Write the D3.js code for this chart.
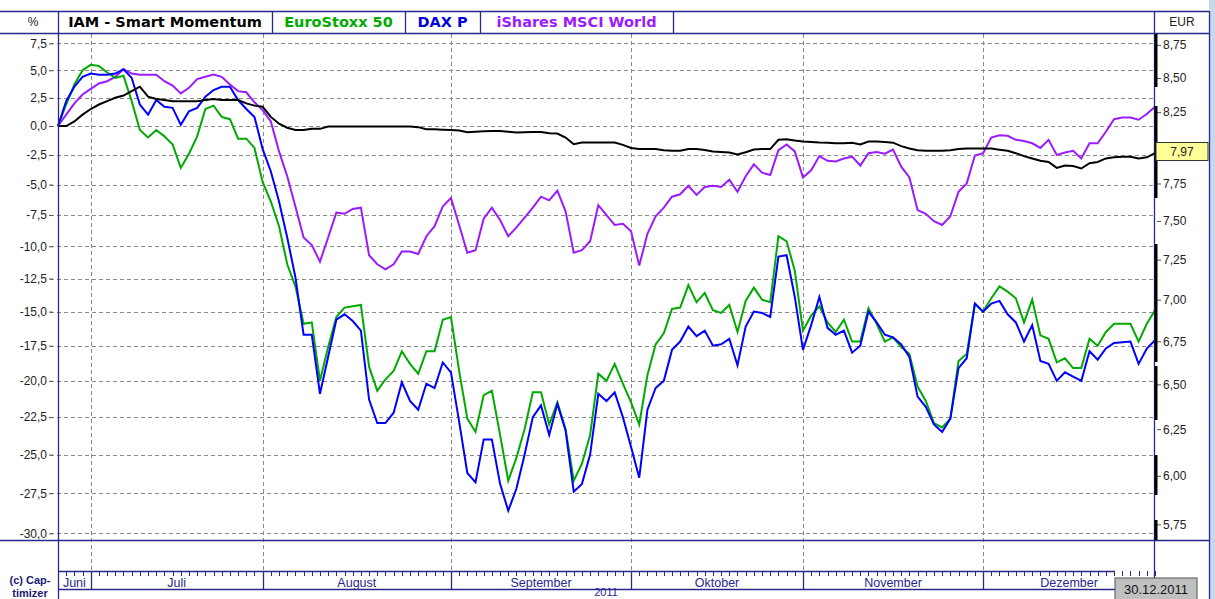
<!DOCTYPE html>
<html>
<head>
<meta charset="utf-8">
<style>
  body { margin: 0; background: #fff; }
  svg text { font-family: Arial, "Liberation Sans", sans-serif; }
</style>
</head>
<body>
<svg id="chart" width="1215" height="599"></svg>
<script src="https://d3js.org/d3.v7.min.js"></script>
<script>
// trading days from 24.06.2011 (base) to 30.12.2011, one value per day, % change
var months = ["Juni", "Juli", "August", "September", "Oktober", "November", "Dezember"];
var monthStart = [0, 4, 25, 48, 70, 91, 113];
var lastIndex = 134;

var iam = [0, 0, 0.4, 1.0, 1.5, 1.9, 2.2, 2.5, 2.7, 3.1,
  3.5, 2.6, 2.4, 2.3, 2.2, 2.2, 2.2, 2.2, 2.3, 2.4,
  2.3, 2.3, 2.3, 2.0, 1.8, 1.7, 0.8, 0.2, -0.15, -0.35,
  -0.35, -0.25, -0.25, -0.05, -0.05, -0.05, -0.05, -0.05, -0.05, -0.05,
  -0.05, -0.05, -0.05, -0.05, -0.1, -0.29, -0.29, -0.32, -0.35, -0.4,
  -0.55, -0.5, -0.45, -0.43, -0.43, -0.5, -0.57, -0.55, -0.52, -0.52,
  -0.63, -0.66, -1.0, -1.58, -1.44, -1.44, -1.44, -1.44, -1.44, -1.64,
  -1.9, -2.0, -2.0, -2.0, -2.1, -2.15, -2.15, -2.0, -2.0, -2.07,
  -2.2, -2.25, -2.3, -2.47, -2.27, -2.04, -2.0, -2.0, -1.2, -1.15,
  -1.26, -1.35, -1.4, -1.44, -1.45, -1.5, -1.5, -1.45, -1.6, -1.35,
  -1.35, -1.4, -1.45, -1.75, -1.95, -2.1, -2.15, -2.15, -2.15, -2.1,
  -2.0, -1.95, -1.95, -1.95, -1.95, -2.05, -2.15, -2.35, -2.6, -2.8,
  -3.0, -3.1, -3.6, -3.4, -3.45, -3.65, -3.2, -3.1, -2.8, -2.7,
  -2.65, -2.65, -2.8, -2.7, -2.35];

var eurostoxx = [0, 1.9, 3.7, 5.0, 5.5, 5.4, 4.8, 4.3, 4.5, 2.2,
  -0.35, -1.0, -0.35, -0.9, -1.6, -3.6, -2.4, -0.9, 1.5, 1.8,
  0.8, 0.6, -1.1, -1.1, -1.9, -4.8, -6.4, -8.4, -11.4, -13.1,
  -15.9, -15.8, -20.0, -17.6, -15.4, -14.7, -14.6, -14.5, -19.0, -20.7,
  -19.9, -19.3, -17.9, -18.8, -19.5, -17.9, -17.9, -15.6, -15.4, -19.3,
  -22.6, -23.5, -21.0, -20.7, -23.7, -26.7, -25.2, -23.3, -20.8, -20.8,
  -23.0, -21.5, -23.3, -26.7, -25.6, -23.7, -19.5, -20.0, -18.8, -20.2,
  -21.5, -23.0, -19.6, -17.4, -16.6, -14.8, -14.7, -13.0, -14.3, -13.6,
  -14.9, -15.1, -14.5, -16.5, -14.2, -13.2, -14.1, -14.3, -9.2, -9.6,
  -11.9, -16.4, -15.3, -14.6, -15.8, -16.5, -15.6, -17.2, -17.2, -14.75,
  -15.9, -17.2, -16.9, -17.6, -18.1, -20.4, -21.4, -22.9, -23.2, -22.6,
  -18.6, -18.1, -14.4, -15.0, -14.0, -13.1, -13.5, -14.0, -15.8, -14.1,
  -16.75, -17.0, -18.7, -18.4, -19.1, -19.1, -17.0, -17.5, -16.5, -15.9,
  -15.9, -15.9, -17.2, -15.9, -14.9];

var dax = [0, 2.2, 3.5, 4.4, 4.7, 4.6, 4.6, 4.7, 5.1, 4.3,
  1.9, 1.0, 2.3, 1.7, 1.6, 0.1, 1.3, 1.6, 2.6, 3.2,
  3.5, 3.5, 2.3, 1.5, 0.8, -2.0, -3.9, -6.4, -9.3, -12.4,
  -16.7, -16.7, -20.9, -18.3, -15.6, -15.2, -15.7, -16.4, -21.3, -22.9,
  -22.9, -22.2, -20.1, -21.4, -22.0, -20.2, -20.5, -18.7, -19.4, -22.8,
  -26.2, -26.8, -24.0, -24.0, -26.9, -28.6, -27.2, -25.0, -22.5, -21.7,
  -23.7, -21.6, -23.4, -27.4, -26.9, -25.0, -20.9, -21.4, -20.8, -22.5,
  -24.5, -26.5, -22.0, -20.5, -20.0, -17.8, -17.2, -16.1, -16.8, -16.4,
  -17.5, -17.4, -17.0, -18.9, -16.1, -15.0, -15.1, -15.4, -10.8, -10.7,
  -13.9, -17.8, -16.0, -13.9, -16.2, -16.7, -16.4, -18.0, -17.5, -15.0,
  -15.8, -16.7, -16.9, -17.4, -18.3, -21.1, -21.8, -23.0, -23.5, -22.6,
  -19.1, -18.4, -14.4, -15.0, -14.4, -14.2, -15.2, -15.8, -17.2, -16.0,
  -18.6, -18.8, -20.0, -19.4, -19.7, -20.0, -17.9, -18.5, -17.7, -17.3,
  -17.25, -17.2, -18.8, -17.7, -17.1];

var ishares = [0, 1.0, 2.0, 2.8, 3.3, 3.8, 4.0, 4.4, 5.1, 4.7,
  4.6, 4.6, 4.6, 4.0, 3.6, 2.9, 3.4, 4.2, 4.4, 4.6,
  4.4, 3.7, 3.1, 3.0, 2.1, 1.4, 0.4, -2.2, -4.3, -6.8,
  -9.3, -9.9, -11.2, -9.3, -7.3, -7.4, -7.0, -6.9, -10.7, -11.4,
  -11.8, -11.4, -10.4, -10.4, -10.6, -9.2, -8.4, -6.8, -6.1, -8.3,
  -10.5, -10.3, -7.8, -6.9, -7.9, -9.2, -8.5, -7.7, -6.9, -6.0,
  -6.3, -5.5, -7.2, -10.5, -10.3, -9.6, -6.7, -7.5, -8.3, -8.2,
  -8.8, -11.5, -9.0, -7.6, -6.9, -6.0, -5.8, -5.1, -5.85, -5.2,
  -5.1, -5.2, -4.6, -5.6, -4.3, -3.3, -4.0, -4.2, -2.1, -1.6,
  -2.2, -4.4, -3.8, -2.6, -3.0, -3.05, -2.8, -2.65, -3.4, -2.35,
  -2.25, -2.4, -2.05, -3.5, -4.4, -7.1, -7.4, -8.0, -8.3, -7.6,
  -5.6, -4.9, -2.55, -2.35, -1.0, -0.8, -0.85, -1.2, -1.3, -1.5,
  -1.9, -1.2, -2.5, -2.3, -2.15, -2.8, -1.5, -1.5, -0.5, 0.6,
  0.75, 0.75, 0.55, 1.05, 1.7];

var pctTicks = [7.5, 5, 2.5, 0, -2.5, -5, -7.5, -10, -12.5, -15, -17.5, -20, -22.5, -25, -27.5, -30];
var eurTicks = [8.75, 8.5, 8.25, 7.75, 7.5, 7.25, 7.0, 6.75, 6.5, 6.25, 6.0, 5.75];
var basePrice = 8.15;   // IAM price at 0 %
var lastPrice = 7.97;
var lastDate = "30.12.2011";
var year = "2011";

var seriesNames = ["IAM - Smart Momentum", "EuroStoxx 50", "DAX P", "iShares MSCI World"];
var seriesColors = ["#000000", "#00aa00", "#0000ff", "#9b1bff"];
var legendTextColors = ["#000000", "#00aa00", "#0000dd", "#9b1bff"];

var svg = d3.select("#chart");
var frame = "#28288c";
var plotL = 58, plotR = 1155, plotT = 34, plotB = 540;

var de = d3.formatLocale({decimal: ",", thousands: ".", grouping: [3], currency: ["", " €"], minus: "-"});
var f1 = de.format(".1f"), f2 = de.format(".2f");

var x = d3.scaleLinear().domain([0, lastIndex]).range([plotL, plotR]);
// log scale: returns are plotted as ratio 1 + p/100
var y = d3.scaleLog().domain([0.69594, 1.0839]).range([plotB, plotT]);
var yEur = d3.scaleLog().domain([0.69594 * basePrice, 1.0839 * basePrice]).range([plotB, plotT]);
function py(p) { return y(1 + p / 100); }

// light window border on the right
svg.append("rect").attr("x", 1209).attr("y", 0).attr("width", 6).attr("height", 599).attr("fill", "#c9d7ea");

// horizontal gridlines
svg.append("g").selectAll("line").data(pctTicks).enter().append("line")
  .attr("x1", 50).attr("x2", plotR)
  .attr("y1", function(d) { return Math.round(py(d)) + 0.5; })
  .attr("y2", function(d) { return Math.round(py(d)) + 0.5; })
  .attr("stroke", "#8a8a8a").attr("stroke-dasharray", "4,3");

// vertical gridlines at month starts
svg.append("g").selectAll("line").data(monthStart.slice(1)).enter().append("line")
  .attr("x1", function(d) { return Math.round(x(d)) + 0.5; })
  .attr("x2", function(d) { return Math.round(x(d)) + 0.5; })
  .attr("y1", plotT).attr("y2", 571)
  .attr("stroke", "#8a8a8a").attr("stroke-dasharray", "4,3");

// left axis labels
var ax = svg.append("g").attr("transform", "translate(" + 53 + ",0)")
  .call(d3.axisLeft(y).tickValues(pctTicks.map(function(p) { return 1 + p / 100; }))
    .tickFormat(function(d) { return f1((d - 1) * 100); }).tickSize(4).tickPadding(2));
ax.select(".domain").remove();
ax.selectAll("line").attr("stroke", "#555");
ax.selectAll("text").attr("fill", "#222").style("font-size", "12px");

// right axis
var ar = svg.append("g").attr("transform", "translate(" + (plotR + 2) + ",0)")
  .call(d3.axisRight(yEur).tickValues(eurTicks).tickFormat(f2).tickSize(4).tickPadding(2));
ar.select(".domain").remove();
ar.selectAll("line").attr("stroke", "#555");
ar.selectAll("text").attr("fill", "#222").style("font-size", "12px");

// series lines
var line = d3.line().x(function(d, i) { return x(i); }).y(function(d) { return py(d); });
[[ishares, 3], [eurostoxx, 1], [dax, 2], [iam, 0]].forEach(function(s) {
  svg.append("path").datum(s[0]).attr("d", line).attr("fill", "none")
    .attr("stroke", seriesColors[s[1]]).attr("stroke-width", 2);
});

// frame lines
function hl(y0, x0, x1) {
  svg.append("line").attr("x1", x0).attr("x2", x1).attr("y1", y0 + 0.5).attr("y2", y0 + 0.5)
    .attr("stroke", frame).attr("stroke-width", 1.3);
}
function vl(x0, y0, y1) {
  svg.append("line").attr("x1", x0 + 0.5).attr("x2", x0 + 0.5).attr("y1", y0).attr("y2", y1)
    .attr("stroke", frame).attr("stroke-width", 1.3);
}
hl(11, 0, 1209);
hl(33, 0, 1209);
hl(540, 0, 1209);
hl(571, 58, 1115);
hl(589, 58, 1115);
vl(58, 11, 599);
vl(1154, 11, 580);
vl(1209, 11, 599);

// thick black marker segments on the right axis
var markerSegs = [[34, 87], [106, 198], [244, 362], [366, 420], [455, 495], [520, 540]];
svg.append("g").selectAll("line").data(markerSegs).enter().append("line")
  .attr("x1", plotR + 1).attr("x2", plotR + 1)
  .attr("y1", function(d) { return d[0]; }).attr("y2", function(d) { return d[1]; })
  .attr("stroke", "#000").attr("stroke-width", 3);

// header legend
var cellEdges = [58, 272, 405, 480, 673];
seriesNames.forEach(function(n, i) {
  vl(cellEdges[i + 1], 11, 33);
  svg.append("text").attr("x", (cellEdges[i] + cellEdges[i + 1]) / 2).attr("y", 27)
    .attr("text-anchor", "middle").attr("fill", legendTextColors[i])
    .style("font-family", "'DejaVu Sans', Verdana, sans-serif")
    .style("font-size", "14.5px").style("font-weight", "bold").text(n);
});
svg.append("text").attr("x", 33).attr("y", 26).attr("text-anchor", "middle")
  .style("font-size", "12px").attr("fill", "#222").text("%");
svg.append("text").attr("x", 1182).attr("y", 26).attr("text-anchor", "middle")
  .style("font-size", "12px").attr("fill", "#222").text("EUR");

// current price box
var yl = yEur(lastPrice);
svg.append("rect").attr("x", 1156).attr("y", yl - 9).attr("width", 52).attr("height", 18)
  .attr("fill", "#ffff99").attr("stroke", "#333");
svg.append("text").attr("x", 1182).attr("y", yl + 4).attr("text-anchor", "middle")
  .style("font-size", "12px").attr("fill", "#222").text(f2(lastPrice));

// time axis: day ticks and months
svg.append("g").selectAll("line").data(d3.range(0, lastIndex + 1)).enter().append("line")
  .attr("x1", function(d) { return Math.round(x(d)) + 0.5; })
  .attr("x2", function(d) { return Math.round(x(d)) + 0.5; })
  .attr("y1", 571).attr("y2", 576).attr("stroke", frame);
monthStart.forEach(function(m, i) {
  var end = i < monthStart.length - 1 ? monthStart[i + 1] : lastIndex;
  if (i > 0) vl(Math.round(x(m)), 571, 589);
  svg.append("text").attr("x", (x(m) + x(end)) / 2).attr("y", 587).attr("text-anchor", "middle")
    .style("font-size", "12.5px").attr("fill", frame).text(months[i]);
});
svg.append("text").attr("x", 606).attr("y", 596).attr("text-anchor", "middle")
  .style("font-size", "11px").attr("fill", frame).text(year);

// date box
svg.append("rect").attr("x", 1115).attr("y", 578).attr("width", 82).attr("height", 22)
  .attr("fill", "#c0c0c0").attr("stroke", "#555");
svg.append("text").attr("x", 1156).attr("y", 594).attr("text-anchor", "middle")
  .style("font-size", "13px").attr("fill", "#111").text(lastDate);

// copyright
svg.append("text").attr("x", 30).attr("y", 584).attr("text-anchor", "middle")
  .style("font-size", "11px").style("font-weight", "bold").attr("fill", "#1a1a70").text("(c) Cap-");
svg.append("text").attr("x", 30).attr("y", 597).attr("text-anchor", "middle")
  .style("font-size", "11px").style("font-weight", "bold").attr("fill", "#1a1a70").text("timizer");
</script>
</body>
</html>
